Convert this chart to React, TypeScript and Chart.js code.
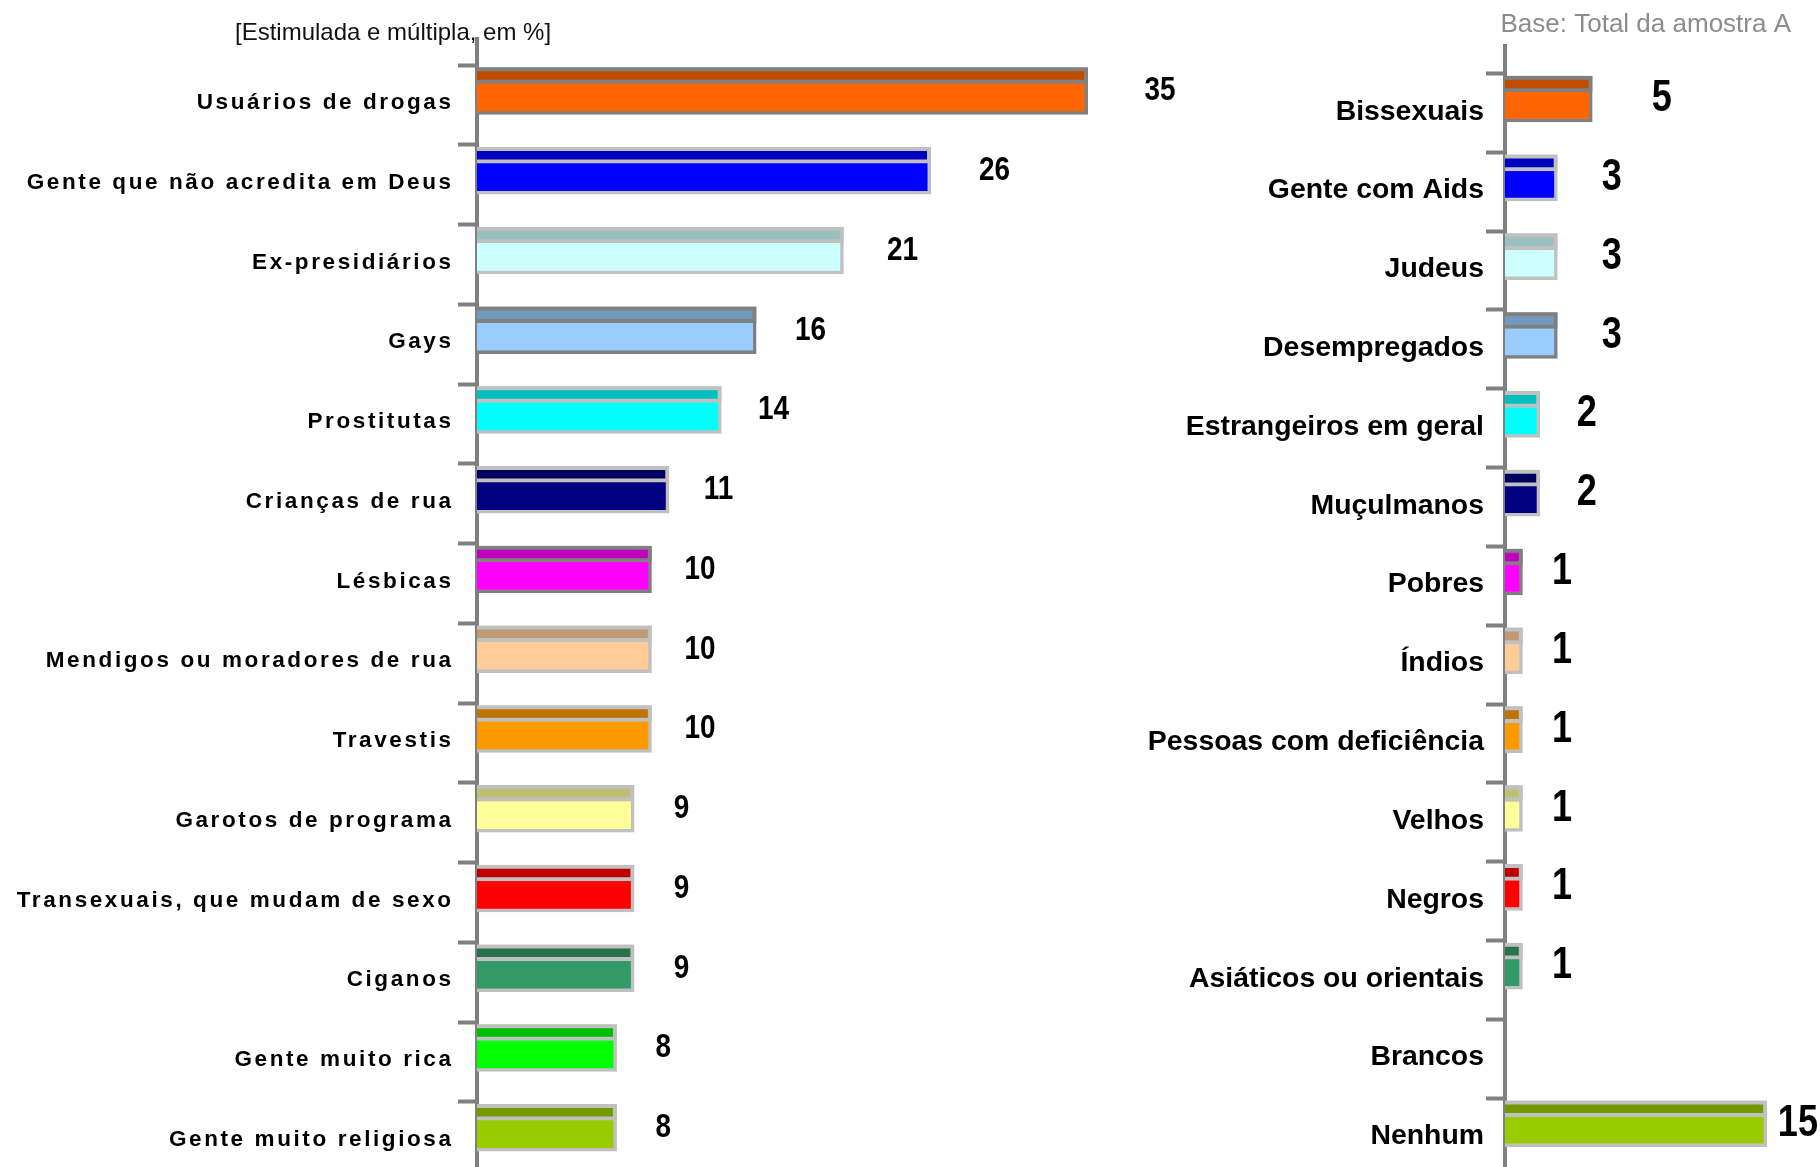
import React, { useEffect, useRef } from "react";
import { Chart, registerables } from "chart.js";

Chart.register(...registerables);

// ---------- data ----------
const leftCategories = [
  "Usuários de drogas",
  "Gente que não acredita em Deus",
  "Ex-presidiários",
  "Gays",
  "Prostitutas",
  "Crianças de rua",
  "Lésbicas",
  "Mendigos ou moradores de rua",
  "Travestis",
  "Garotos de programa",
  "Transexuais, que mudam de sexo",
  "Ciganos",
  "Gente muito rica",
  "Gente muito religiosa",
];
const leftValues = [35, 26, 21, 16, 14, 11, 10, 10, 10, 9, 9, 9, 8, 8];

const rightCategories = [
  "Bissexuais",
  "Gente com Aids",
  "Judeus",
  "Desempregados",
  "Estrangeiros em geral",
  "Muçulmanos",
  "Pobres",
  "Índios",
  "Pessoas com deficiência",
  "Velhos",
  "Negros",
  "Asiáticos ou orientais",
  "Brancos",
  "Nenhum",
];
const rightValues = [5, 3, 3, 3, 2, 2, 1, 1, 1, 1, 1, 1, 0, 15];

const leftNote = "[Estimulada e múltipla, em %]";
const rightNote = "Base: Total da amostra A";

// ---------- styles ----------
const barColors = [
  "#FF6600", "#0000FF", "#CCFFFF", "#99CCFF", "#00FFFF", "#000080", "#FF00FF",
  "#FFCC99", "#FF9900", "#FFFF99", "#FF0000", "#339966", "#00FF00", "#99CC00",
];
const edgeColors = barColors.map((_, i) => (i === 0 || i === 3 || i === 6 ? "#808080" : "#C0C0C0"));

function darken(hex: string, f = 0.75): string {
  const n = parseInt(hex.slice(1), 16);
  const r = Math.round(((n >> 16) & 255) * f);
  const g = Math.round(((n >> 8) & 255) * f);
  const b = Math.round((n & 255) * f);
  return `rgb(${r},${g},${b})`;
}
const stripColors = barColors.map((c) => darken(c));

const W = 1820;
const H = 1167;
const PX_PER_UNIT = 17.45;
const SANS = '"Liberation Sans", Arial, sans-serif';
const NARROW_SCALE = 0.82;

type Side = {
  categories: string[];
  values: number[];
  axisX: number;
  top: number;
  firstTick: number;
  band: number;
  xMax: number;
  barTop: number;
  barThick: number;
  stripThick: number;
  labelRight: number;
  labelBaseline: number;
  labelFont: string;
  labelSpacing: number;
  valueFont: string;
  valueGap: number;
  valueGapPerUnit: number;
  note: { text: string; x: number; y: number; font: string; color: string; align: CanvasTextAlign };
};

const leftSide: Side = {
  categories: leftCategories,
  values: leftValues,
  axisX: 477,
  top: 39,
  firstTick: 65,
  band: 79.75,
  xMax: 40,
  barTop: 2.5,
  barThick: 47,
  stripThick: 16,
  labelRight: 451,
  labelBaseline: 44,
  labelFont: `bold 22.5px ${SANS}`,
  labelSpacing: 2.6,
  valueFont: `bold 34px ${SANS}`,
  valueGap: 39,
  valueGapPerUnit: 0.95,
  note: { text: leftNote, x: 235, y: 40, font: `24px ${SANS}`, color: "#111111", align: "left" },
};

const rightSide: Side = {
  categories: rightCategories,
  values: rightValues,
  axisX: 1505,
  top: 46,
  firstTick: 73.5,
  band: 78.83,
  xMax: 18,
  barTop: 2.5,
  barThick: 46,
  stripThick: 16,
  labelRight: 1484,
  labelBaseline: 46,
  labelFont: `bold 28.4px ${SANS}`,
  labelSpacing: 0,
  valueFont: `bold 44px ${SANS}`,
  valueGap: 32,
  valueGapPerUnit: 7.5,
  note: { text: rightNote, x: 1791, y: 32, font: `26px ${SANS}`, color: "#8C8C8C", align: "right" },
};

function makeConfig(s: Side): any {
  const yMin = -(s.firstTick - s.top) / s.band;
  const yMax = (H - s.firstTick) / s.band;
  const barC = (s.barTop + s.barThick / 2) / s.band;
  const stripC = (s.barTop + s.stripThick / 2) / s.band;
  const mainData = s.values.map((v, i) => ({ x: v > 0 ? v : null, y: i + barC }));
  const stripData = s.values.map((v, i) => ({ x: v > 0 ? v : null, y: i + stripC }));

  const textPlugin = {
    id: "texts",
    afterDraw(chart: any) {
      const ctx: CanvasRenderingContext2D = chart.ctx;
      const ys = chart.scales.y;
      const xs = chart.scales.x;
      ctx.save();
      // category labels
      ctx.fillStyle = "#000000";
      ctx.font = s.labelFont;
      ctx.textAlign = "right";
      ctx.textBaseline = "alphabetic";
      (ctx as any).letterSpacing = `${s.labelSpacing}px`;
      s.categories.forEach((c, i) => {
        ctx.fillText(c, s.labelRight + s.labelSpacing, ys.getPixelForValue(i + s.labelBaseline / s.band));
      });
      (ctx as any).letterSpacing = "0px";
      // value labels (condensed bold)
      ctx.font = s.valueFont;
      ctx.textAlign = "center";
      ctx.textBaseline = "middle";
      s.values.forEach((v, i) => {
        if (v <= 0) return;
        const txt = String(v);
        const half = (ctx.measureText(txt).width * NARROW_SCALE) / 2;
        let x = xs.getPixelForValue(v) + s.valueGap + s.valueGapPerUnit * v;
        x = Math.min(x, W - 2 - half);
        const y = ys.getPixelForValue(i + barC);
        ctx.save();
        ctx.translate(x, y);
        ctx.scale(NARROW_SCALE, 1);
        ctx.fillText(txt, 0, 0);
        ctx.restore();
      });
      // note
      ctx.font = s.note.font;
      ctx.fillStyle = s.note.color;
      ctx.textAlign = s.note.align;
      ctx.textBaseline = "alphabetic";
      ctx.fillText(s.note.text, s.note.x, s.note.y);
      ctx.restore();
    },
  };

  return {
    type: "bar",
    data: {
      labels: s.categories,
      datasets: [
        {
          data: stripData,
          backgroundColor: stripColors,
          borderColor: edgeColors,
          borderWidth: 4,
          borderSkipped: "start",
          barThickness: s.stripThick,
          grouped: false,
        },
        {
          data: mainData,
          backgroundColor: barColors,
          borderColor: edgeColors,
          borderWidth: 3.5,
          borderSkipped: "start",
          barThickness: s.barThick,
          grouped: false,
        },
      ],
    },
    options: {
      indexAxis: "y",
      responsive: false,
      animation: false,
      events: [],
      layout: {
        padding: { left: 0, top: s.top, right: W - s.axisX - s.xMax * PX_PER_UNIT, bottom: 0 },
      },
      plugins: { legend: { display: false }, tooltip: { enabled: false }, title: { display: false } },
      scales: {
        x: { type: "linear", min: 0, max: s.xMax, display: false },
        y: {
          type: "linear",
          reverse: true,
          min: yMin,
          max: yMax,
          offset: false,
          z: 1,
          afterBuildTicks: (sc: any) => {
            sc.ticks = s.categories.map((_, i) => ({ value: i }));
          },
          afterFit: (sc: any) => {
            sc.width = s.axisX;
          },
          grid: {
            drawOnChartArea: false,
            drawTicks: true,
            tickLength: 19,
            tickWidth: 4,
            tickColor: "#808080",
            offset: false,
          },
          border: { display: true, color: "#808080", width: 4 },
          ticks: { display: false },
        },
      },
    },
    plugins: [textPlugin],
  };
}

function SideChart({ side }: { side: Side }) {
  const ref = useRef<HTMLCanvasElement | null>(null);
  useEffect(() => {
    if (!ref.current) return;
    const chart = new Chart(ref.current, makeConfig(side));
    return () => chart.destroy();
  }, [side]);
  return (
    <canvas
      ref={ref}
      width={W}
      height={H}
      style={{ position: "absolute", left: 0, top: 0, width: W, height: H }}
    />
  );
}

export default function App() {
  return (
    <div
      style={{
        position: "absolute",
        left: 0,
        top: 0,
        width: W,
        height: H,
        background: "#ffffff",
        overflow: "hidden",
      }}
    >
      <SideChart side={leftSide} />
      <SideChart side={rightSide} />
    </div>
  );
}
